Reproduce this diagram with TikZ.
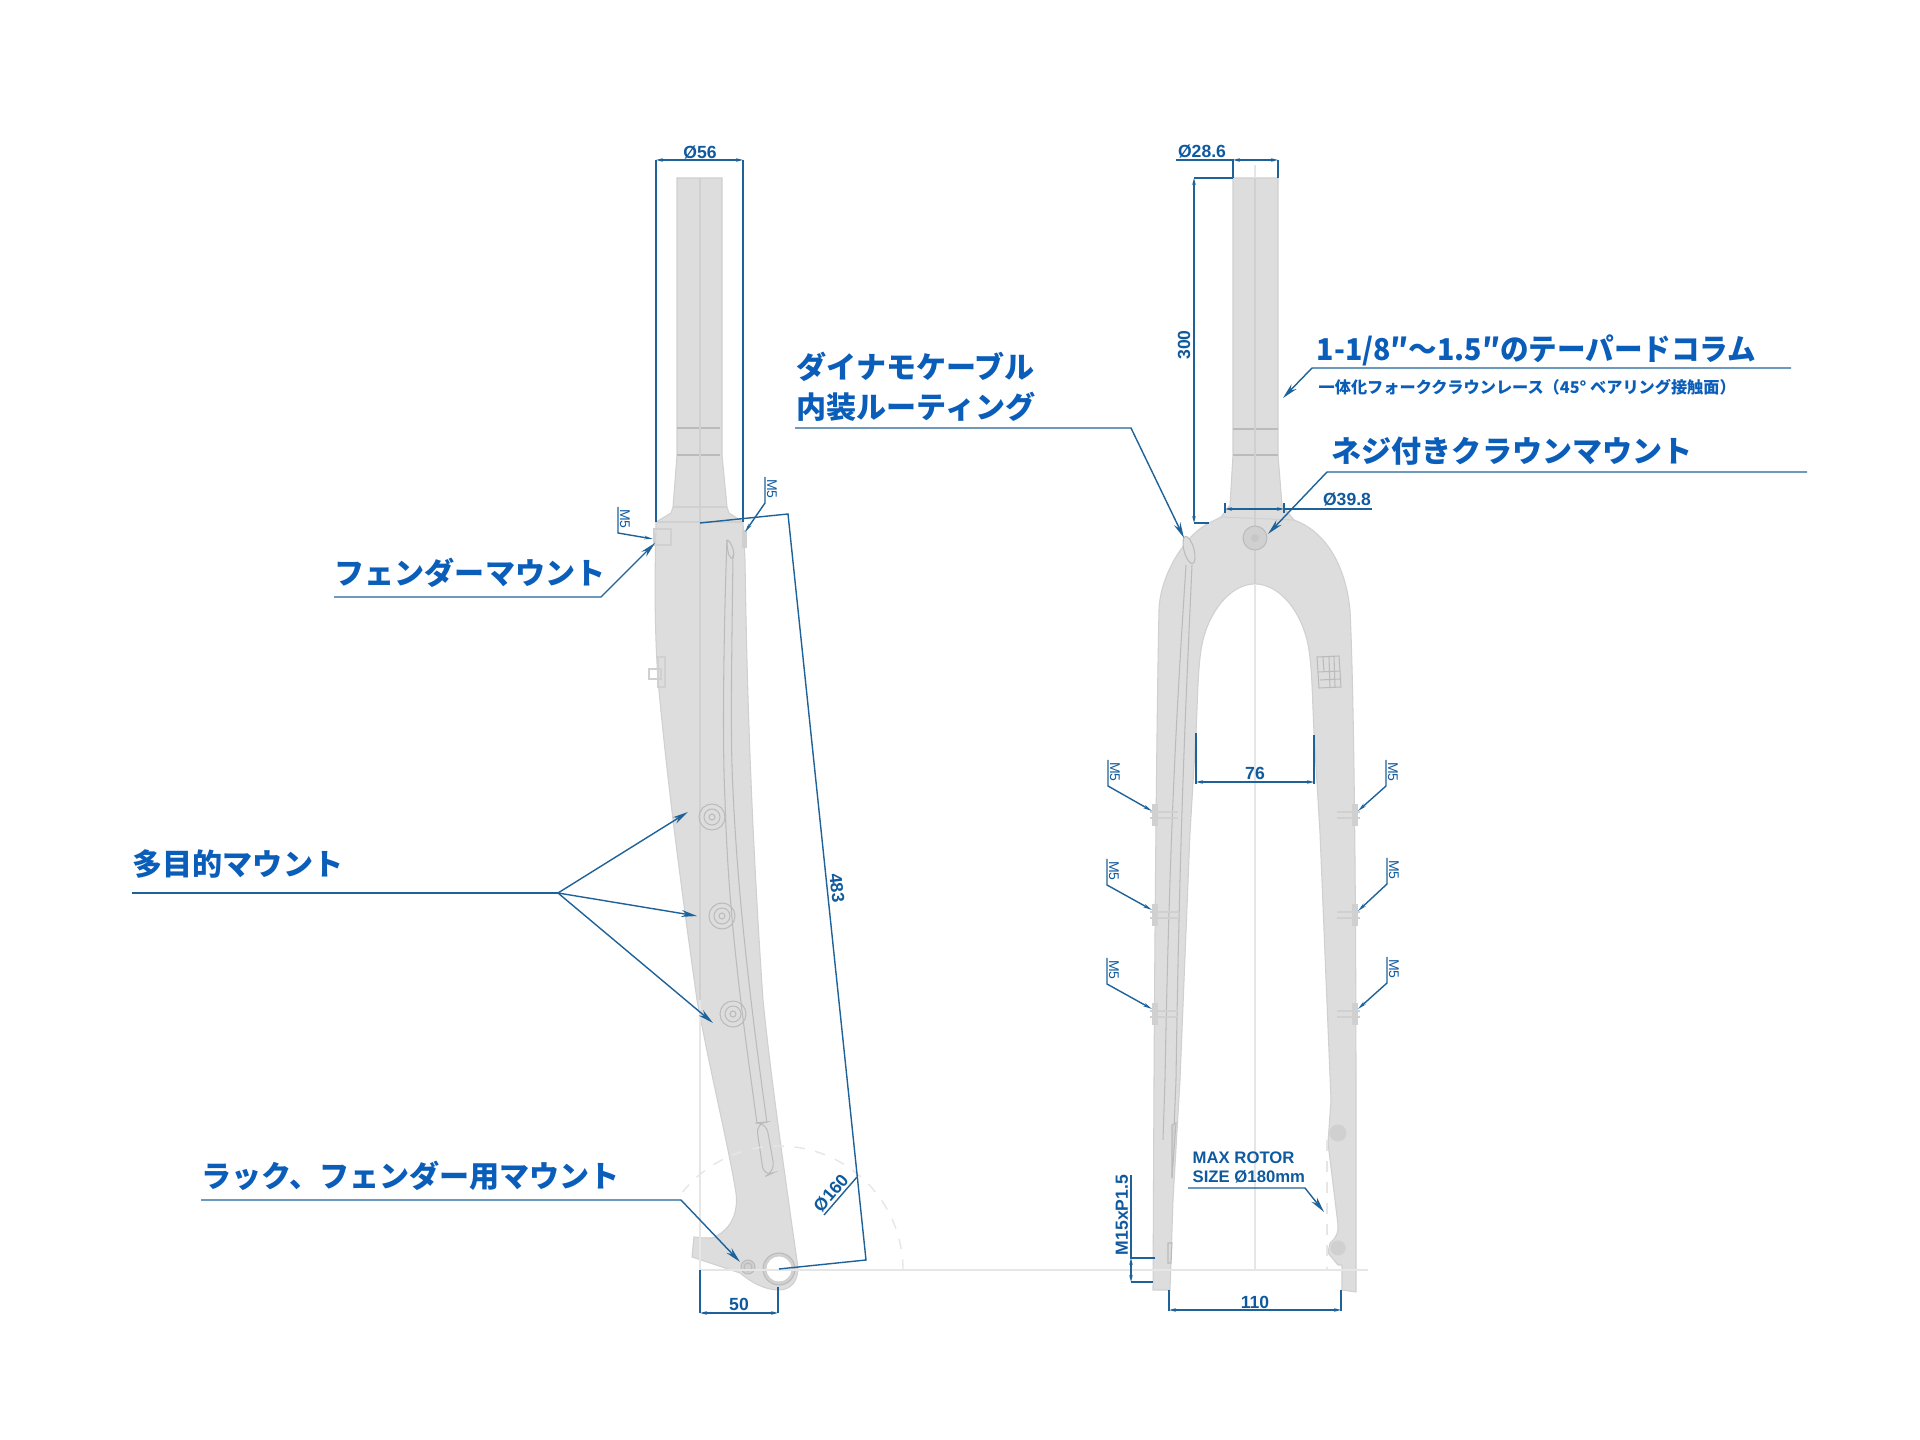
\documentclass[tikz,border=0pt]{standalone}
\usepackage{fontspec}
\usepackage{graphicx}
\setmainfont{Liberation Sans}
\newfontfamily\jpfont{Noto Sans CJK JP}
\usetikzlibrary{arrows.meta}
\definecolor{bodygray}{HTML}{DDDDDD}
\definecolor{edgegray}{HTML}{D0D0D0}
\definecolor{markgray}{HTML}{BBBBBB}
\definecolor{ghostgray}{HTML}{E6E6E6}
\definecolor{headblue}{HTML}{0A5DB8}
\definecolor{leadblue}{HTML}{1F6299}
\definecolor{dimblue}{HTML}{0F5A9E}
\tikzset{
  forkbody/.style={fill=bodygray,draw=edgegray,line width=.3pt},
  forkline/.style={draw=markgray,line width=.3pt},
  faintline/.style={draw=edgegray,line width=.3pt},
  ghostline/.style={draw=ghostgray,line width=.4pt},
  leader/.style={draw=leadblue,line width=.4pt},
  pointer/.style={leader,-{Stealth[length=4.5pt,width=2pt]}},
  dimline/.style={leader,{Stealth[length=2pt,width=1pt]}-{Stealth[length=2pt,width=1pt]}},
  heading/.style={text=headblue,anchor=west,inner sep=0pt,font=\fontsize{8.55}{11.4}\selectfont\jpfont\bfseries,align=left},
  dimtext/.style={text=dimblue,inner sep=0pt,font=\fontsize{5}{5.4}\selectfont\bfseries},
  threadtext/.style={text=dimblue,inner sep=0pt,rotate=-90,font=\fontsize{4}{5}\selectfont}
}
\begin{document}
\begin{tikzpicture}[x=.01cm,y=-.01cm]
  \useasboundingbox (0,0) rectangle (1920,1440);
  % side view
  \draw[forkbody] (677,178) -- (722,178) -- (722,455) -- (727,507) -- (729,513) -- (743,522) -- (745,560)
    .. controls (746,620) and (748,780) .. (763,1000) .. controls (771,1080) and (787,1190) .. (798,1268)
    .. controls (798,1282) and (790,1290) .. (779,1290) .. controls (765,1290) and (752,1283) .. (740,1273)
    -- (692,1257) -- (694,1237) .. controls (700,1238) and (706,1238) .. (712,1238)
    .. controls (728,1232) and (741,1215) .. (735,1187)
    .. controls (727,1140) and (712,1080) .. (697,1000) .. controls (683,900) and (668,790) .. (658,680)
    .. controls (654,620) and (655,570) .. (656,522) -- (671,513) -- (673,507) -- (677,455) -- cycle;
  \draw[forkline] (677,428) -- (720,428) (677,455) -- (720,455);
  \draw[faintline] (673,507) -- (727,507) (657,522) -- (742,522);
  \draw[faintline] (700,178) -- (700,1000);
  \draw[forkline] (727,540) .. controls (724,620) and (722,740) .. (725,800) .. controls (728,900) and (737,980) .. (757,1123);
  \draw[forkline] (733,555) .. controls (732,640) and (730,740) .. (733,790) .. controls (737,880) and (747,980) .. (767,1123);
  \draw[forkline] (727,540) .. controls (730,540) and (736,552) .. (733,558) .. controls (731,560) and (727,556) .. (727,540);
  \draw[forkline,rounded corners=3pt,fill=bodygray] (756,1123) -- (766,1122) -- (775,1172) -- (764,1177) -- cycle;
  \draw[faintline] (654,529) rectangle (671,545);
  \draw[faintline,fill=edgegray] (743,531) rectangle (746,547);
  \draw[faintline] (649,669) rectangle (661,679) (658,657) rectangle (665,687);
  \foreach \cx/\cy in {712/817,722/916,733/1014} {
    \draw[forkline] (\cx,\cy) circle[radius=13] (\cx,\cy) circle[radius=8] (\cx,\cy) circle[radius=3];
  }
  \draw[forkline,fill=edgegray] (748,1267) circle[radius=7];
  \draw[forkline] (748,1267) circle[radius=4];
  \draw[draw=markgray,fill=edgegray,line width=.3pt] (779,1269) circle[radius=16];
  \fill[white] (779,1269) circle[radius=12.5];
  % front view
  \draw[forkbody] (1233,178) -- (1278,178) -- (1278,455) -- (1282,505) -- (1294,520)
    .. controls (1322,530) and (1345,560) .. (1350,610) .. controls (1354,690) and (1356,900) .. (1356,1100)
    -- (1356,1292) -- (1342,1290) -- (1342,1265) -- (1338,1265) -- (1328,1253) -- (1330,1243)
    .. controls (1336,1238) and (1339,1232) .. (1338,1225) -- (1335,1200) -- (1328,1143) -- (1331,1100)
    -- (1320,833) -- (1314,733) .. controls (1312,690) and (1312,660) .. (1307,640)
    .. controls (1298,605) and (1276,584) .. (1255,584) .. controls (1234,584) and (1212,605) .. (1203,640)
    .. controls (1198,660) and (1198,690) .. (1196,733) -- (1190,833) -- (1180,1080) -- (1173,1200) -- (1170,1290)
    -- (1153,1290) -- (1154,1080) .. controls (1155,900) and (1157,700) .. (1159,610)
    .. controls (1160,575) and (1185,535) .. (1209,523) -- (1221,517) -- (1230,505) -- (1233,455) -- cycle;
  \draw[forkline] (1233,429) -- (1278,429) (1233,455) -- (1278,455);
  \draw[faintline] (1221,517) -- (1294,520);
  \draw[ghostline] (1255,165) -- (1255,1270);
  \draw[faintline] (1255,178) -- (1255,584);
  \draw[forkline] (1186,565) .. controls (1180,660) and (1170,800) .. (1165,1080) -- (1163,1140);
  \draw[forkline] (1192,565) .. controls (1188,660) and (1180,800) .. (1176,1080) -- (1172,1178);
  \draw[forkline,fill=bodygray,rotate around={15:(1189,550)}] (1189,550) ellipse[x radius=5,y radius=14];
  \draw[forkline,fill=edgegray] (1255,538) circle[radius=12];
  \fill[markgray,opacity=.4] (1255,538) circle[radius=4];
  \draw[forkline,fill=edgegray] (1172,1125) -- (1176,1123) -- (1172,1178) -- cycle;
  \draw[forkline] (1168,1243) -- (1172,1243) -- (1171,1263) -- (1168,1263) -- cycle;
  \draw[faintline,fill=edgegray] (1338,1133) circle[radius=8] (1338,1248) circle[radius=7];
  \draw[draw=markgray,line width=.3pt] (1317,657) -- (1339,656) -- (1341,687) -- (1319,688) -- cycle
    (1318,672) -- (1340,671) (1329,657) -- (1330,688) (1323,657) -- (1324,672) (1334,657) -- (1335,687) (1320,680) -- (1340,679);
  % lugs on the blades
  \foreach \ly in {815,915,1014} {
    \draw[faintline,fill=edgegray] (1153,\ly-10) -- (1157,\ly-10) -- (1157,\ly+10) -- (1153,\ly+10) -- cycle;
    \draw[faintline] (1150,\ly-3) -- (1178,\ly-3) (1150,\ly+3) -- (1178,\ly+3);
    \draw[faintline,fill=edgegray] (1353,\ly-10) -- (1357,\ly-10) -- (1357,\ly+10) -- (1353,\ly+10) -- cycle;
    \draw[faintline] (1337,\ly-3) -- (1360,\ly-3) (1337,\ly+3) -- (1360,\ly+3);
  }
  % thin construction lines
  \draw[ghostline] (700,1000) -- (700,1270);
  \draw[ghostline] (700,1270) -- (1368,1270);
  \draw[ghostline,dashed] (903,1270) arc[start angle=0,end angle=-141,radius=124];
  \draw[ghostline,dashed] (1327,1140) -- (1327,1270);
  % callouts
  \node[heading] (fendertext) at (334,573) {フェンダーマウント};
  \coordinate (fenderstart) at (334,597);
  \coordinate (fenderbend) at (601,597);
  \coordinate (fendertip) at (655,543);
  \draw[pointer] (fenderstart) -- (fenderbend) -- (fendertip);
  \node[heading] (multitext) at (132,864) {多目的マウント};
  \coordinate (multistart) at (132,893);
  \coordinate (multibend) at (558,893);
  \coordinate (multitipa) at (688,812);
  \coordinate (multitipb) at (697,916);
  \coordinate (multitipc) at (713,1023);
  \draw[leader] (multistart) -- (multibend);
  \draw[pointer] (multibend) -- (multitipa);
  \draw[pointer] (multibend) -- (multitipb);
  \draw[pointer] (multibend) -- (multitipc);
  \node[heading] (racktext) at (201,1176) {ラック、フェンダー用マウント};
  \coordinate (rackstart) at (201,1200);
  \coordinate (rackbend) at (681,1200);
  \coordinate (racktip) at (740,1262);
  \draw[pointer] (rackstart) -- (rackbend) -- (racktip);
  \node[heading] (dynatext) at (796,387) {ダイナモケーブル\\内装ルーティング};
  \coordinate (dynastart) at (795,428);
  \coordinate (dynabend) at (1131,428);
  \coordinate (dynatip) at (1184,538);
  \draw[pointer] (dynastart) -- (dynabend) -- (dynatip);
  \node[heading] (tapertext) at (1316,350) {\scalebox{.95}[1]{1-1/8″〜1.5″のテーパードコラム}};
  \node[heading,font=\fontsize{4.6}{6}\selectfont\jpfont\bfseries] (racetext) at (1318,387) {一体化フォーククラウンレース（45° ベアリング接触面）};
  \coordinate (taperstart) at (1791,368);
  \coordinate (taperbend) at (1312,368);
  \coordinate (tapertip) at (1283,398);
  \draw[pointer] (taperstart) -- (taperbend) -- (tapertip);
  \node[heading] (crowntext) at (1331,451) {ネジ付きクラウンマウント};
  \coordinate (crownstart) at (1807,472);
  \coordinate (crownbend) at (1327,472);
  \coordinate (crowntip) at (1268,534);
  \draw[pointer] (crownstart) -- (crownbend) -- (crowntip);
  \node[dimtext,anchor=west,align=left,font=\fontsize{4.75}{5.4}\selectfont\bfseries] (rotortext) at (1192,1167) {MAX ROTOR\\SIZE Ø180mm};
  \coordinate (rotorstart) at (1188,1188);
  \coordinate (rotorbend) at (1305,1188);
  \coordinate (rotortip) at (1324,1212);
  \draw[pointer] (rotorstart) -- (rotorbend) -- (rotortip);
  % thread callouts
  \foreach \mname/\ex/\ey/\tipx/\tipy in {
    sideleft/618/507/653/539,sideright/765/477/745/532,
    frontla/1108/760/1152/811,frontlb/1107/859/1152/910,frontlc/1107/958/1152/1009,
    frontra/1386/760/1358/811,frontrb/1387/858/1358/911,frontrc/1387/957/1358/1009} {
    \coordinate (\mname top) at (\ex,\ey);
    \coordinate (\mname bend) at (\ex,\ey+26);
    \coordinate (\mname tip) at (\tipx,\tipy);
    \node[threadtext] (\mname text) at (\ex+7,\ey+12) {M5};
    \draw[leader,-{Stealth[length=2.5pt,width=1pt]}] (\mname top) -- (\mname bend) -- (\mname tip);
  }
  % dimensions, side view
  \coordinate (stemleft) at (656,160);
  \coordinate (stemright) at (743,160);
  \node[dimtext] (stemtext) at (700,153) {Ø56};
  \draw[dimline] (stemleft) -- (stemright);
  \draw[leader] (stemleft) -- (656,522) (stemright) -- (743,522);
  \coordinate (lengthcrown) at (700,523);
  \coordinate (lengthtop) at (788,514);
  \coordinate (lengthbottom) at (866,1260);
  \coordinate (lengthaxle) at (779,1269);
  \node[dimtext,rotate=-84] (lengthtext) at (837,888) {483};
  \draw[leader] (lengthcrown) -- (lengthtop) -- (lengthbottom) -- (lengthaxle);
  \coordinate (rotora) at (857,1177);
  \coordinate (rotorb) at (824,1215);
  \node[dimtext,rotate=49] (rotorsizetext) at (831,1193) {Ø160};
  \draw[leader] (rotora) -- (rotorb);
  \coordinate (offseta) at (700,1313);
  \coordinate (offsetb) at (778,1313);
  \node[dimtext] (offsettext) at (739,1304) {50};
  \draw[dimline] (offseta) -- (offsetb);
  \draw[leader] (offseta) -- (700,1270) (offsetb) -- (778,1287);
  % dimensions, front view
  \coordinate (steerleft) at (1233,160);
  \coordinate (steerright) at (1278,160);
  \node[dimtext] (steertext) at (1202,151) {Ø28.6};
  \draw[dimline] (steerleft) -- (steerright);
  \draw[leader] (1176,160) -- (steerleft) -- (1233,178) (steerright) -- (1278,178);
  \coordinate (heighttop) at (1194,178);
  \coordinate (heightbottom) at (1194,523);
  \node[dimtext,rotate=90] (heighttext) at (1184,345) {300};
  \draw[dimline] (heighttop) -- (heightbottom);
  \draw[leader] (heighttop) -- (1233,178) (heightbottom) -- (1209,523);
  \coordinate (baseleft) at (1225,509);
  \coordinate (baseright) at (1284,509);
  \node[dimtext] (basetext) at (1347,499) {Ø39.8};
  \draw[dimline] (baseleft) -- (baseright);
  \draw[leader] (baseright) -- (1372,509) (1225,503) -- (1225,513) (1284,503) -- (1284,513);
  \coordinate (archleft) at (1196,782);
  \coordinate (archright) at (1314,782);
  \node[dimtext] (archtext) at (1255,773) {76};
  \draw[dimline] (archleft) -- (archright);
  \draw[leader] (1196,733) -- (1196,784) (1314,735) -- (1314,784);
  \coordinate (hubleft) at (1169,1310);
  \coordinate (hubright) at (1341,1310);
  \node[dimtext] (hubtext) at (1255,1302) {110};
  \draw[dimline] (hubleft) -- (hubright);
  \draw[leader] (1169,1290) -- (1169,1311) (1341,1290) -- (1341,1311);
  \coordinate (threadtop) at (1131,1258);
  \coordinate (threadbottom) at (1131,1282);
  \node[dimtext,rotate=90] (threadsize) at (1122,1215) {M15xP1.5};
  \draw[dimline] (threadtop) -- (threadbottom);
  \draw[leader] (1131,1175) -- (threadtop) -- (1155,1258) (threadbottom) -- (1153,1282);
\end{tikzpicture}
\end{document}
